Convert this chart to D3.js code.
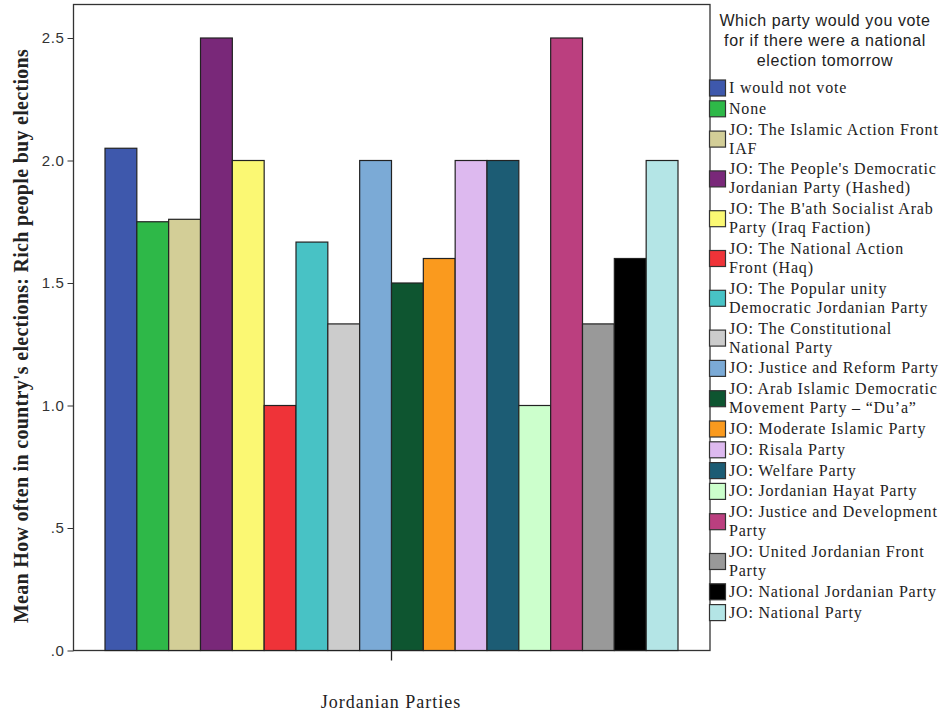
<!DOCTYPE html>
<html><head><meta charset="utf-8">
<script src="https://cdn.jsdelivr.net/npm/d3@7"></script>
<style>body{margin:0;background:#fff}</style>
</head><body>
<svg id="c" width="944" height="715"></svg>
<script>
const categories = [
  "I would not vote",
  "None",
  "JO: The Islamic Action Front IAF",
  "JO: The People's Democratic Jordanian Party (Hashed)",
  "JO: The B'ath Socialist Arab Party (Iraq Faction)",
  "JO: The National Action Front (Haq)",
  "JO: The Popular unity Democratic Jordanian Party",
  "JO: The Constitutional National Party",
  "JO: Justice and Reform Party",
  "JO: Arab Islamic Democratic Movement Party \u2013 \u201cDu\u2019a\u201d",
  "JO: Moderate Islamic Party",
  "JO: Risala Party",
  "JO: Welfare Party",
  "JO: Jordanian Hayat Party",
  "JO: Justice and Development Party",
  "JO: United Jordanian Front Party",
  "JO: National Jordanian Party",
  "JO: National Party"
];
const legendLines = [
  ["I would not vote"],
  ["None"],
  ["JO: The Islamic Action Front", "IAF"],
  ["JO: The People's Democratic", "Jordanian Party (Hashed)"],
  ["JO: The B'ath Socialist Arab", "Party (Iraq Faction)"],
  ["JO: The National Action", "Front (Haq)"],
  ["JO: The Popular unity", "Democratic Jordanian Party"],
  ["JO: The Constitutional", "National Party"],
  ["JO: Justice and Reform Party"],
  ["JO: Arab Islamic Democratic", "Movement Party \u2013 \u201cDu\u2019a\u201d"],
  ["JO: Moderate Islamic Party"],
  ["JO: Risala Party"],
  ["JO: Welfare Party"],
  ["JO: Jordanian Hayat Party"],
  ["JO: Justice and Development", "Party"],
  ["JO: United Jordanian Front", "Party"],
  ["JO: National Jordanian Party"],
  ["JO: National Party"]
];
const values = [2.05, 1.75, 1.76, 2.5, 2.0, 1.0, 1.667, 1.333, 2.0, 1.5, 1.6, 2.0, 2.0, 1.0, 2.5, 1.333, 1.6, 2.0];
const colors = ["#3E58AC","#2EB848","#D3CE97","#792879","#FBF873","#EF3338","#48C2C5","#CCCCCC","#7BAAD6","#0E5530","#FA9A1E","#DDB9EF","#1C5C74","#CCFFCC","#BB3F7F","#999999","#000000","#B4E5E6"];
const yTicks = [0, 0.5, 1.0, 1.5, 2.0, 2.5];
const yTickLabels = [".0", ".5", "1.0", "1.5", "2.0", "2.5"];
const xLabel = "Jordanian Parties";
const yLabel = "Mean How often in country's elections: Rich people buy elections";
const legendTitle = ["Which party would you vote", "for if there were a national", "election tomorrow"];

const serif = "'Liberation Serif', 'Times New Roman', serif";
const sans = "'Liberation Sans', Arial, sans-serif";
const svg = d3.select("#c");
const frame = {l: 73.5, t: 4.5, r: 710, b: 650.5};
const y = d3.scaleLinear().domain([0, 2.5]).range([650.5, 38]);
const x = d3.scaleBand().domain(categories).range([105, 678]).padding(0);

// frame
svg.append("rect").attr("x", frame.l).attr("y", frame.t)
  .attr("width", frame.r - frame.l).attr("height", frame.b - frame.t)
  .attr("fill", "none").attr("stroke", "#333").attr("stroke-width", 1.3);

// bars
svg.append("g").selectAll("rect").data(values).join("rect")
  .attr("x", (d, i) => x(categories[i]))
  .attr("y", d => y(d))
  .attr("width", x.bandwidth())
  .attr("height", d => y(0) - y(d))
  .attr("fill", (d, i) => colors[i])
  .attr("stroke", "#222").attr("stroke-width", 1.2);

// y axis
const yAxis = d3.axisLeft(y).tickValues(yTicks).tickSize(6)
  .tickFormat((d, i) => yTickLabels[i]);
const gy = svg.append("g").attr("transform", `translate(${frame.l},0)`).call(yAxis);
gy.select(".domain").remove();
gy.selectAll("text").attr("font-family", sans).attr("font-size", 15).attr("letter-spacing", 0.6).attr("fill", "#333").attr("dx", "0");
gy.selectAll("line").attr("stroke", "#333");

// x axis single tick at group center
const xc = d3.scalePoint().domain([xLabel]).range([391, 391]);
const gx = svg.append("g").attr("transform", `translate(0,${frame.b})`)
  .call(d3.axisBottom(xc).tickSize(10).tickFormat(""));
gx.select(".domain").remove();
gx.selectAll("line").attr("stroke", "#222").attr("stroke-width", 1.3);

svg.append("text").attr("x", 391).attr("y", 708).attr("text-anchor", "middle")
  .attr("font-family", serif).attr("font-size", 18).attr("letter-spacing", 1).attr("fill", "#222")
  .text(xLabel);

svg.append("text").attr("transform", "translate(28,336) rotate(-90)").attr("text-anchor", "middle")
  .attr("font-family", serif).attr("font-size", 20).attr("letter-spacing", 0.3).attr("font-weight", "bold").attr("fill", "#222")
  .text(yLabel);

// legend
const lg = svg.append("g");
lg.selectAll("text.t").data(legendTitle).join("text")
  .attr("x", 825).attr("y", (d, i) => 26 + i * 20).attr("text-anchor", "middle")
  .attr("font-family", sans).attr("font-size", 16).attr("letter-spacing", 0.6).attr("fill", "#222")
  .text(d => d);

let cy = 88;
legendLines.forEach((lines, i) => {
  const n = lines.length;
  const mid = cy + (n - 1) * 19 / 2;
  lg.append("rect").attr("x", 709.5).attr("y", mid - 8).attr("width", 16).attr("height", 16)
    .attr("fill", colors[i]).attr("stroke", "#333").attr("stroke-width", 1.2);
  lines.forEach((ln, j) => {
    lg.append("text").attr("x", 729).attr("y", cy + j * 19 + 5)
      .attr("font-family", serif).attr("font-size", 16).attr("letter-spacing", 0.8).attr("fill", "#222")
      .text(ln);
  });
  cy += (n - 1) * 19 + 20.8;
});
</script>
</body></html>
